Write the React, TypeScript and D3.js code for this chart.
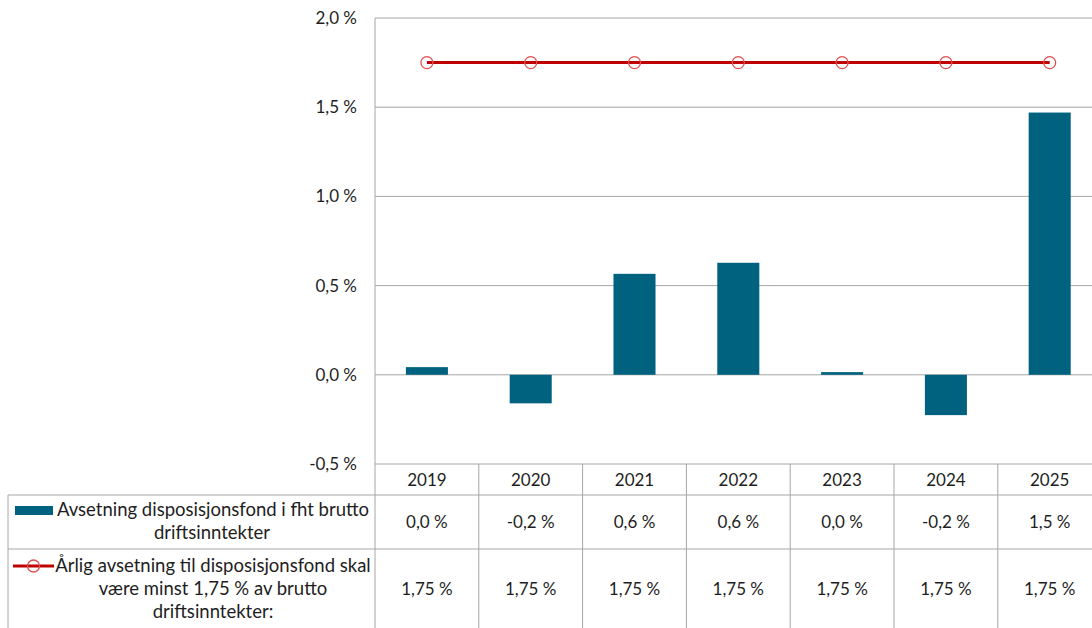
import React from 'react';
import * as d3 from 'd3';

// chart data
const years = ['2019', '2020', '2021', '2022', '2023', '2024', '2025'];
const avsetning = [0.043, -0.16, 0.566, 0.628, 0.015, -0.226, 1.47];
const avsetningLabels = ['0,0 %', '-0,2 %', '0,6 %', '0,6 %', '0,0 %', '-0,2 %', '1,5 %'];
const minimum = [1.75, 1.75, 1.75, 1.75, 1.75, 1.75, 1.75];
const minimumLabels = ['1,75 %', '1,75 %', '1,75 %', '1,75 %', '1,75 %', '1,75 %', '1,75 %'];
const yTicks = [-0.5, 0, 0.5, 1.0, 1.5, 2.0];

const W = 1092;
const H = 628;
const left = 375;
const right = 1101.6;
const top = 18;
const bottom = 464;
const FONT = 'Lato, "Open Sans", sans-serif';
const BAR = '#00627f';
const RED = '#c00000';
const GRID = '#a6a6a6';
const TXT = '#1e1e1e';

const fmt = (v: number) => v.toFixed(1).replace('.', ',') + ' %';

const App = () => {
    const x = d3.scaleBand<string>().domain(years).range([left, right]).padding(0);
    const y = d3.scaleLinear().domain([-0.5, 2]).range([bottom, top]);
    const bw = x.bandwidth() * 0.405;
    const cx = (yr: string) => (x(yr) as number) + x.bandwidth() / 2;

    const line = d3.line<number>()
        .x((_, i) => cx(years[i]))
        .y(d => y(d));

    // table rows
    const headerBottom = 495;
    const row1Bottom = 549;

    return (
        <svg width={W} height={H} style={{ position: 'fixed', left: 0, top: 0, background: '#fff' }}
            fontFamily={FONT}>
            {/* gridlines */}
            {yTicks.map(t => (
                <line key={t} x1={left} x2={W} y1={y(t)} y2={y(t)} stroke={GRID} strokeWidth={1} />
            ))}
            {yTicks.map(t => (
                <text key={'l' + t} x={357} y={y(t)} dy="0.35em" textAnchor="end" fontSize={17} fill={TXT}>
                    {fmt(t)}
                </text>
            ))}

            {/* bars */}
            {avsetning.map((v, i) => (
                <rect key={years[i]} x={cx(years[i]) - bw / 2} width={bw}
                    y={Math.min(y(v), y(0))} height={Math.abs(y(v) - y(0))} fill={BAR} />
            ))}

            {/* minimum line */}
            <path d={line(minimum) as string} fill="none" stroke={RED} strokeWidth={3} />
            {minimum.map((v, i) => (
                <circle key={'c' + i} cx={cx(years[i])} cy={y(v)} r={6} fill="none" stroke="#e05050" strokeWidth={1.3} />
            ))}

            {/* data table */}
            <line x1={left} x2={left} y1={top} y2={H} stroke={GRID} />
            <line x1={8} x2={8} y1={headerBottom} y2={H} stroke={GRID} />
            <line x1={8} x2={W} y1={headerBottom} y2={headerBottom} stroke={GRID} />
            <line x1={8} x2={W} y1={row1Bottom} y2={row1Bottom} stroke={GRID} />
            {years.slice(1).map(yr => (
                <line key={'v' + yr} x1={x(yr) as number} x2={x(yr) as number} y1={bottom} y2={H} stroke={GRID} />
            ))}
            {years.map((yr, i) => (
                <g key={'t' + yr} fontSize={17} fill={TXT} textAnchor="middle">
                    <text x={cx(yr)} y={480} dy="0.35em">{yr}</text>
                    <text x={cx(yr)} y={522} dy="0.35em">{avsetningLabels[i]}</text>
                    <text x={cx(yr)} y={589} dy="0.35em">{minimumLabels[i]}</text>
                </g>
            ))}

            {/* legend keys in table */}
            <rect x={15} y={506} width={38} height={9} fill={BAR} />
            <line x1={13} x2={54} y1={566} y2={566} stroke={RED} strokeWidth={3} />
            <circle cx={33.5} cy={566} r={6} fill="none" stroke="#e05050" strokeWidth={1.3} />
            <g fontSize={18.5} fill={TXT} textAnchor="middle">
                <text x={213} y={510} dy="0.35em">Avsetning disposisjonsfond i fht brutto</text>
                <text x={212} y={533} dy="0.35em">driftsinntekter</text>
                <text x={213} y={566} dy="0.35em">Årlig avsetning til disposisjonsfond skal</text>
                <text x={213} y={589} dy="0.35em">være minst 1,75 % av brutto</text>
                <text x={213} y={612} dy="0.35em">driftsinntekter:</text>
            </g>
        </svg>
    );
};

export default App;
